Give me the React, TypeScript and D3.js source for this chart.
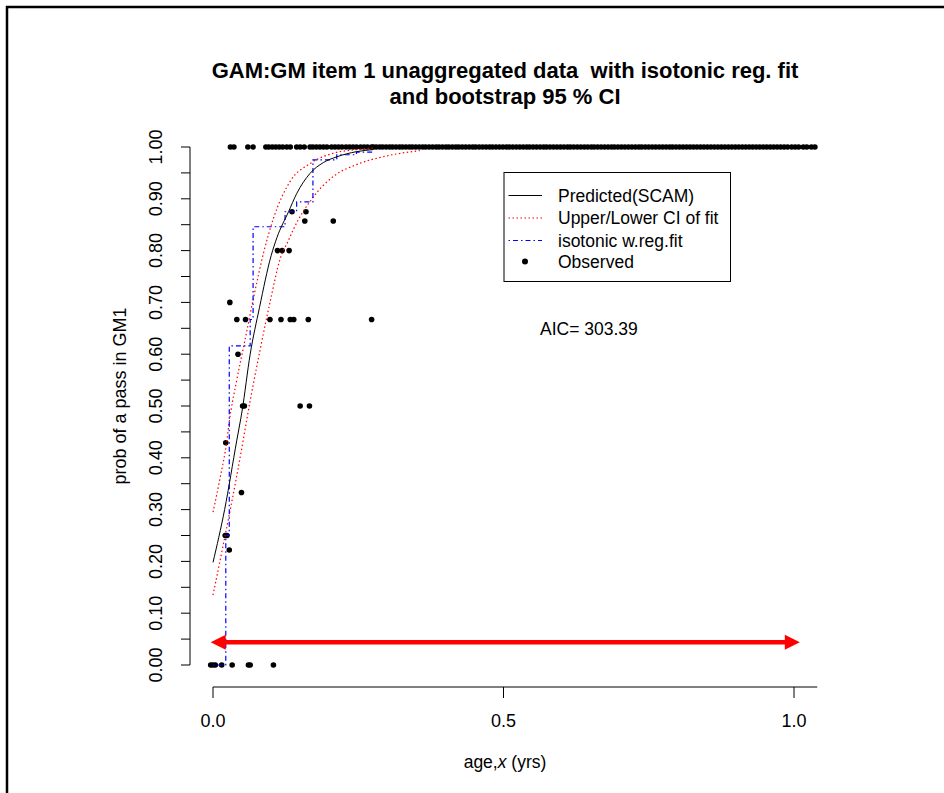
import React from "react";
import * as d3 from "d3";

// ---- data (ages in years, probabilities) ----
const passAges = [
  0.030, 0.036, 0.060, 0.069, 0.091, 0.096, 0.102, 0.108, 0.114, 0.120, 0.127, 0.133,
  0.144, 0.150, 0.157, 0.167, 0.172, 0.178, 0.184, 0.190, 0.196, 0.204, 0.210, 0.216,
  0.222, 0.229, 0.235, 0.241, 0.247, 0.254, 0.260, 0.266, 0.273, 0.276, 0.281, 0.287,
  0.292, 0.298, 0.304, 0.309, 0.315, 0.321, 0.326, 0.332, 0.338, 0.343, 0.349, 0.355,
  0.361, 0.366, 0.372, 0.378, 0.384, 0.389, 0.395, 0.401, 0.406, 0.412, 0.418, 0.423,
  0.429, 0.435, 0.441, 0.447, 0.452, 0.458, 0.464, 0.470, 0.476, 0.481, 0.487, 0.493,
  0.499, 0.505, 0.510, 0.516, 0.522, 0.528, 0.534, 0.540, 0.545, 0.551, 0.557, 0.563,
  0.569, 0.574, 0.580, 0.586, 0.592, 0.598, 0.604, 0.610, 0.615, 0.621, 0.627, 0.633,
  0.639, 0.645, 0.651, 0.656, 0.662, 0.668, 0.674, 0.680, 0.686, 0.691, 0.697, 0.703,
  0.709, 0.715, 0.721, 0.727, 0.733, 0.738, 0.744, 0.750, 0.756, 0.762, 0.768, 0.774,
  0.780, 0.786, 0.791, 0.797, 0.803, 0.809, 0.815, 0.821, 0.827, 0.833, 0.839, 0.845,
  0.851, 0.857, 0.863, 0.869, 0.875, 0.881, 0.887, 0.893, 0.899, 0.905, 0.911, 0.917,
  0.923, 0.929, 0.935, 0.941, 0.947, 0.953, 0.959, 0.965, 0.971, 0.977, 0.983, 0.989,
  0.996, 1.002, 1.008, 1.016, 1.022, 1.030, 1.036,
];
const failAges = [-0.004, 0.0, 0.004, 0.015, 0.033, 0.061, 0.064, 0.104];
const midAges = [
  0.029, 0.041, 0.056, 0.098, 0.117, 0.133, 0.139, 0.164, 0.273, 0.043, 0.051, 0.054,
  0.150, 0.166, 0.111, 0.119, 0.131, 0.136, 0.160, 0.158, 0.207, 0.022, 0.049, 0.021,
  0.024, 0.028,
];
const midProbs = [
  0.70, 0.667, 0.667, 0.667, 0.667, 0.667, 0.667, 0.667, 0.667, 0.60, 0.50, 0.50,
  0.50, 0.50, 0.80, 0.80, 0.80, 0.875, 0.875, 0.857, 0.857, 0.429, 0.333, 0.25,
  0.25, 0.222,
];

const predAges = [0, 0.02, 0.041, 0.05, 0.064, 0.08, 0.1, 0.11, 0.13, 0.144, 0.167, 0.19, 0.213, 0.247, 0.276];
const predProbs = [0.198, 0.3, 0.434, 0.49, 0.6, 0.69, 0.79, 0.825, 0.875, 0.91, 0.949, 0.97, 0.981, 0.991, 0.995];

const upperAges = [0, 0.012, 0.024, 0.028, 0.04, 0.055, 0.07, 0.088, 0.104, 0.133, 0.167, 0.207, 0.247, 0.275];
const upperProbs = [0.295, 0.36, 0.434, 0.47, 0.545, 0.627, 0.71, 0.8, 0.862, 0.934, 0.968, 0.988, 0.995, 0.998];

const lowerAges = [0, 0.02, 0.04, 0.052, 0.058, 0.081, 0.1, 0.115, 0.13, 0.138, 0.173, 0.207, 0.247, 0.3, 0.356];
const lowerProbs = [0.135, 0.245, 0.36, 0.434, 0.473, 0.608, 0.71, 0.782, 0.82, 0.84, 0.904, 0.943, 0.966, 0.983, 0.993];

const isoAges = [0, 0.022, 0.028, 0.064, 0.069, 0.124, 0.144, 0.172, 0.213, 0.247, 0.279];
const isoProbs = [0, 0.25, 0.616, 0.667, 0.846, 0.875, 0.894, 0.975, 0.985, 0.99, 0.99];

const xTicks = [0, 0.5, 1.0];
const xTickLabels = ["0.0", "0.5", "1.0"];
const yTicks = [0, 0.05, 0.1, 0.15, 0.2, 0.25, 0.3, 0.35, 0.4, 0.45, 0.5, 0.55, 0.6, 0.65, 0.7, 0.75, 0.8, 0.85, 0.9, 0.95, 1.0];
const yLabelTicks = [0, 0.1, 0.2, 0.3, 0.4, 0.5, 0.6, 0.7, 0.8, 0.9, 1.0];
const yTickLabels = ["0.00", "0.10", "0.20", "0.30", "0.40", "0.50", "0.60", "0.70", "0.80", "0.90", "1.00"];

const legendLabels = ["Predicted(SCAM)", "Upper/Lower CI of fit", "isotonic w.reg.fit", "Observed"];
const aicText = "AIC= 303.39";
const arrowStart = -0.004;
const arrowEnd = 1.01;
const arrowLevel = 0.044;
const xAxisEnd = 1.04;

const FONT = "'Liberation Sans', Arial, Helvetica, sans-serif";

export default function App() {
  const x = d3.scaleLinear().domain([0, 1]).range([213, 794]);
  const y = d3.scaleLinear().domain([0, 1]).range([665, 147]);

  const curve = (ages: number[], probs: number[]) =>
    d3
      .line<number>()
      .x((_, i) => x(ages[i]))
      .y((_, i) => y(probs[i]))
      .curve(d3.curveMonotoneX)(ages) || "";

  const isoPath =
    d3
      .line<number>()
      .x((_, i) => x(isoAges[i]))
      .y((_, i) => y(isoProbs[i]))
      .curve(d3.curveStepAfter)(isoAges) || "";

  const ay = y(arrowLevel);
  const ax0 = x(arrowStart);
  const ax1 = x(arrowEnd);
  const headL = 15;
  const headH = 7.5;

  const legY = [195.5, 218, 240.5, 261.5];

  return (
    <svg
      width={944}
      height={793}
      style={{ position: "absolute", left: 0, top: 0, background: "#fff" }}
      fontFamily={FONT}
    >
      <rect x={0} y={0} width={944} height={793} fill="#fff" />
      {/* outer frame */}
      <line x1={6} y1={7} x2={944} y2={7} stroke="#000" strokeWidth={2.5} />
      <line x1={7} y1={6} x2={7} y2={793} stroke="#000" strokeWidth={2.5} />

      {/* title */}
      <text x={505} y={78} textAnchor="middle" fontWeight="bold" fontSize={22}>
        GAM:GM item 1 unaggregated data{"\u00a0"} with isotonic reg. fit
      </text>
      <text x={505} y={104} textAnchor="middle" fontWeight="bold" fontSize={22}>
        and bootstrap 95 % CI
      </text>

      {/* x axis */}
      <line x1={x(0)} y1={687} x2={x(xAxisEnd)} y2={687} stroke="#000" strokeWidth={1} />
      {xTicks.map((t, i) => (
        <g key={"xt" + i}>
          <line x1={x(t)} y1={687} x2={x(t)} y2={698} stroke="#000" strokeWidth={1} />
          <text x={x(t)} y={726.5} textAnchor="middle" fontSize={18}>
            {xTickLabels[i]}
          </text>
        </g>
      ))}
      <text x={505} y={768} textAnchor="middle" fontSize={17.5}>
        age,<tspan fontStyle="italic">x</tspan> (yrs)
      </text>

      {/* y axis */}
      <line x1={190} y1={y(0)} x2={190} y2={y(1)} stroke="#000" strokeWidth={1} />
      {yTicks.map((t, i) => (
        <line key={"yt" + i} x1={181} y1={y(t)} x2={190} y2={y(t)} stroke="#000" strokeWidth={1} />
      ))}
      {yLabelTicks.map((t, i) => (
        <text
          key={"yl" + i}
          transform={`translate(162,${y(t)}) rotate(-90)`}
          textAnchor="middle"
          fontSize={18}
        >
          {yTickLabels[i]}
        </text>
      ))}
      <text transform={`translate(126,${396}) rotate(-90)`} textAnchor="middle" fontSize={18}>
        prob of a pass in GM1
      </text>

      {/* observed points */}
      {passAges.map((a, i) => (
        <circle key={"p" + i} cx={x(a)} cy={y(1)} r={2.8} fill="#000" />
      ))}
      {failAges.map((a, i) => (
        <circle key={"f" + i} cx={x(a)} cy={y(0)} r={2.8} fill="#000" />
      ))}
      {midAges.map((a, i) => (
        <circle key={"m" + i} cx={x(a)} cy={y(midProbs[i])} r={2.8} fill="#000" />
      ))}

      {/* curves */}
      <path d={curve(upperAges, upperProbs)} fill="none" stroke="#ff0000" strokeWidth={1.2} strokeDasharray="1.5,2.5" />
      <path d={curve(lowerAges, lowerProbs)} fill="none" stroke="#ff0000" strokeWidth={1.2} strokeDasharray="1.5,2.5" />
      <path d={isoPath} fill="none" stroke="#0000ff" strokeWidth={1.2} strokeDasharray="1.5,3,5,3" />
      <path d={curve(predAges, predProbs)} fill="none" stroke="#000" strokeWidth={1} />

      {/* red double arrow */}
      <line x1={ax0 + headL - 1} y1={ay} x2={ax1 - headL + 1} y2={ay} stroke="#ff0000" strokeWidth={4.5} />
      <path d={`M${ax0},${ay} L${ax0 + headL},${ay - headH} L${ax0 + headL},${ay + headH} Z`} fill="#ff0000" />
      <path d={`M${ax1},${ay} L${ax1 - headL},${ay - headH} L${ax1 - headL},${ay + headH} Z`} fill="#ff0000" />

      {/* legend */}
      <rect x={504} y={172.5} width={226.5} height={109} fill="#fff" stroke="#000" strokeWidth={1} />
      <line x1={508.5} y1={legY[0]} x2={542} y2={legY[0]} stroke="#000" strokeWidth={1} />
      <line x1={508.5} y1={legY[1]} x2={542} y2={legY[1]} stroke="#ff0000" strokeWidth={1.2} strokeDasharray="1.5,2.5" />
      <line x1={508.5} y1={legY[2]} x2={542} y2={legY[2]} stroke="#0000ff" strokeWidth={1.2} strokeDasharray="1.5,3,5,3" />
      <circle cx={525} cy={legY[3]} r={3} fill="#000" />
      {legendLabels.map((l, i) => (
        <text key={"lg" + i} x={558} y={legY[i] + 6.3} fontSize={17.5}>
          {l}
        </text>
      ))}

      {/* AIC */}
      <text x={540} y={334.5} fontSize={17.5}>
        {aicText}
      </text>
    </svg>
  );
}
